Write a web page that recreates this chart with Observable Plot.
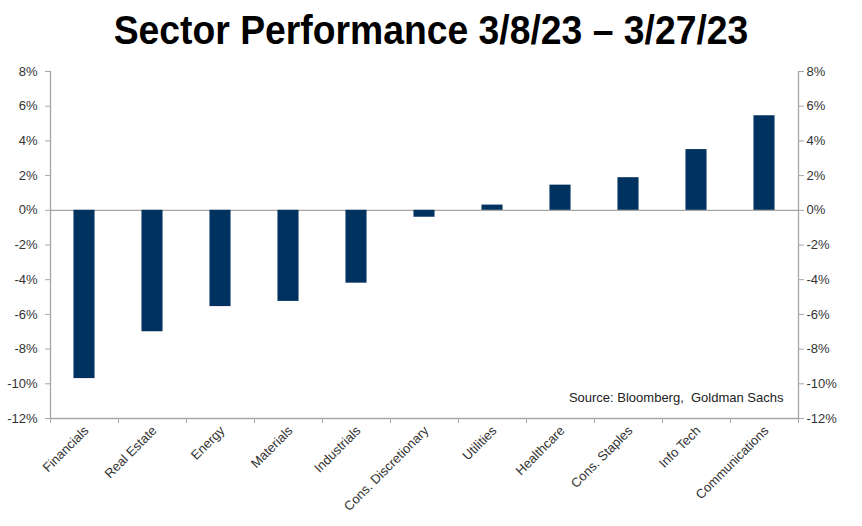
<!DOCTYPE html>
<html><head><meta charset="utf-8">
<script src="https://cdn.jsdelivr.net/npm/d3@7"></script>
<script src="https://cdn.jsdelivr.net/npm/@observablehq/plot@0.6"></script>
<style>
body{margin:0;background:#fff;}
#title{height:62px;font-family:"Liberation Sans",Arial,sans-serif;font-weight:bold;font-size:41px;text-align:center;line-height:60px;color:#000;white-space:nowrap;transform:scaleX(0.91);transform-origin:431px 0;}
</style></head><body>
<div id="title">Sector Performance 3/8/23 – 3/27/23</div>
<div id="chart"></div>
<script>
const sectors = ["Financials","Real Estate","Energy","Materials","Industrials","Cons. Discretionary","Utilities","Healthcare","Cons. Staples","Info Tech","Communications"];
const values = [-9.7, -7.0, -5.55, -5.25, -4.2, -0.4, 0.3, 1.45, 1.88, 3.5, 5.45];
const yTicks = [-12, -10, -8, -6, -4, -2, 0, 2, 4, 6, 8];
const source = "Source: Bloomberg,  Goldman Sachs";

const data = sectors.map((s, i) => ({sector: s, idx: i, value: values[i]}));
const n = sectors.length;
const grey = "#a6a6a6";
const fmt = d => d + "%";

const chart = Plot.plot({
  width: 862, height: 464,
  marginTop: 9, marginBottom: 108, marginLeft: 50, marginRight: 64,
  style: {fontFamily: "'Liberation Sans', Arial, sans-serif", fontSize: "12px", color: "#333", background: "#fff"},
  x: {domain: [0, n], axis: null},
  y: {domain: [-12, 8], axis: null},
  marks: [
    Plot.ruleY([0], {stroke: grey, strokeWidth: 1.3}),
    Plot.rectY(data, {x1: d => d.idx + 0.345, x2: d => d.idx + 0.655, y1: 0, y2: "value", fill: "#00325f"}),
    Plot.ruleX([0, n], {y1: -12, y2: 8, stroke: grey, strokeWidth: 1.3}),
    Plot.ruleY([-12], {stroke: grey, strokeWidth: 1.3}),
    Plot.axisX({ticks: d3.range(0, n + 1), tickFormat: () => "", tickSize: 5, stroke: grey, label: null}),
    Plot.axisY({anchor: "left", ticks: yTicks, tickFormat: fmt, tickSize: 5, tickPadding: 8, stroke: grey, fill: "#333", fontSize: 13, label: null}),
    Plot.axisY({anchor: "right", ticks: yTicks, tickFormat: fmt, tickSize: 5, tickPadding: 3, stroke: grey, fill: "#333", fontSize: 13, label: null}),
    Plot.text(data, {x: d => d.idx + 0.5, y: -12, text: "sector", rotate: -45, textAnchor: "end", lineAnchor: "middle", dx: 2, dy: 10, fontSize: 13, fill: "#333"}),
    Plot.text([source], {frameAnchor: "bottom-right", dx: -15, dy: -17, textAnchor: "end", fontSize: 13, fill: "#222"})
  ]
});
document.getElementById("chart").appendChild(chart);
</script>
</body></html>
